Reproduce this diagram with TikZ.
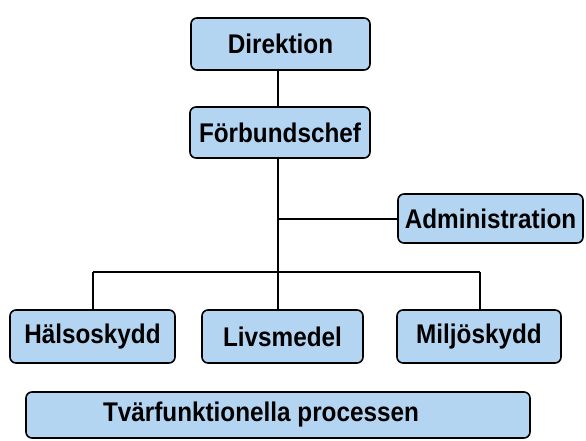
\documentclass[tikz,border=0pt]{standalone}
\usepackage{fontspec}
\setmainfont{Liberation Sans}
\newfontfamily\condfont[FakeStretch=0.9]{Liberation Sans}
\definecolor{boxfill}{RGB}{180,213,242}
\tikzset{
  orgbox/.style={draw=black, line width=1.6pt, rounded corners=6pt, fill=boxfill,
    inner sep=0pt, align=center, font=\condfont\fontsize{27}{27}\selectfont\bfseries},
  conn/.style={draw=black, line width=2pt}
}
\begin{document}
\begin{tikzpicture}[x=1pt,y=-1pt]
\useasboundingbox (0,0) rectangle (586,440);
\node[orgbox, minimum width=179pt, minimum height=52pt] (dir) at (280.5,44) {Direktion};
\node[orgbox, minimum width=180pt, minimum height=51pt] (forb) at (280,132.5) {Förbundschef};
\node[orgbox, minimum width=185pt, minimum height=49pt] (adm) at (490.5,218.5) {Administration};
\node[orgbox, minimum width=165pt, minimum height=53pt] (hal) at (92.5,336.5) {Hälsoskydd};
\node[orgbox, minimum width=161pt, minimum height=53pt] (liv) at (282.5,336.5) {Livsmedel};
\node[orgbox, minimum width=164pt, minimum height=53pt] (mil) at (479,336.5) {Miljöskydd};
\node[orgbox, minimum width=504pt, minimum height=46pt] (tvar) at (278,415) {Tvärfunktionella processen\hspace*{34pt}};
\coordinate (tdir) at (278,70);
\coordinate (tforbtop) at (278,107);
\coordinate (tforb) at (278,158);
\coordinate (tadm) at (278,219);
\coordinate (tbar) at (278,272);
\coordinate (lbar) at (93,272);
\coordinate (rbar) at (480,272);
\draw[conn] (tdir) -- (tforbtop);
\draw[conn] (tforb) -- (tbar) -- (liv.north -| tbar);
\draw[conn] (tadm) -- (adm.west |- tadm);
\draw[conn] (lbar) -- (rbar);
\draw[conn] (lbar) -- (hal.north -| lbar);
\draw[conn] (rbar) -- (mil.north -| rbar);
\end{tikzpicture}
\end{document}
